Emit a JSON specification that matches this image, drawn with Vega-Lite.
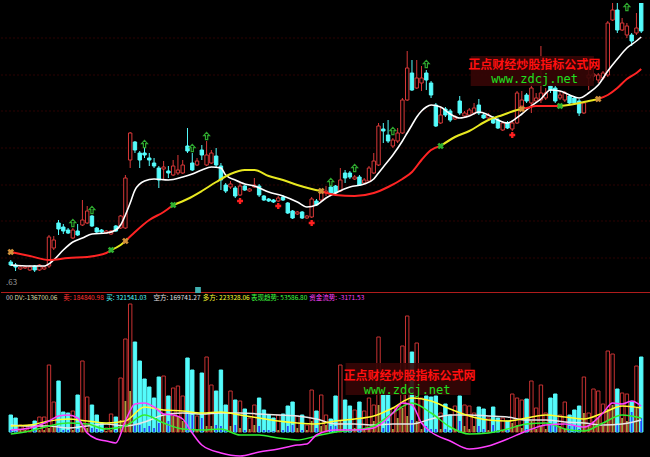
{
"$schema": "https://vega.github.io/schema/vega-lite/v6.json",
"background": "#000000",
"padding": 0,
"spacing": 15,
"bounds": "flush",
"config": {"view": {"stroke": null}, "text": {"font": "Noto Sans CJK SC"}},
"datasets": {
"k": [
{"i":0,"o":4.1,"c":3.8,"h":4.3,"l":3.7,"v":17000,"d":2000},
{"i":1,"o":3.8,"c":3.6,"h":4.0,"l":3.2,"v":14000,"d":1000},
{"i":2,"o":3.4,"c":3.6,"h":3.7,"l":3.3,"v":7000,"d":2000},
{"i":3,"o":3.5,"c":3.6,"h":3.7,"l":3.4,"v":6000,"d":2000},
{"i":4,"o":3.3,"c":3.6,"h":3.8,"l":3.2,"v":7000,"d":1000},
{"i":5,"o":3.7,"c":3.3,"h":3.8,"l":3.1,"v":11000,"d":2000},
{"i":6,"o":3.3,"c":3.8,"h":3.9,"l":3.2,"v":15000,"d":2000},
{"i":7,"o":3.4,"c":3.6,"h":3.7,"l":3.3,"v":15000,"d":2000},
{"i":8,"o":3.7,"c":6.6,"h":6.8,"l":3.5,"v":67000,"d":4000},
{"i":9,"o":5.5,"c":6.3,"h":6.7,"l":5.3,"v":30000,"d":6000},
{"i":10,"o":8.0,"c":7.4,"h":8.3,"l":6.8,"v":51000,"d":6000},
{"i":11,"o":7.6,"c":7.2,"h":7.9,"l":6.9,"v":20000,"d":2000},
{"i":12,"o":7.3,"c":7.0,"h":7.5,"l":6.9,"v":19000,"d":2000},
{"i":13,"o":6.5,"c":7.3,"h":7.5,"l":6.4,"v":21000,"d":2000},
{"i":14,"o":7.2,"c":6.8,"h":7.9,"l":6.7,"v":37000,"d":3000},
{"i":15,"o":7.8,"c":8.3,"h":10.3,"l":7.7,"v":71000,"d":7000},
{"i":16,"o":8.0,"c":9.2,"h":9.7,"l":7.9,"v":35000,"d":4000},
{"i":17,"o":8.7,"c":7.7,"h":8.8,"l":7.6,"v":27000,"d":4000},
{"i":18,"o":7.5,"c":7.1,"h":7.6,"l":7.0,"v":17000,"d":3000},
{"i":19,"o":7.3,"c":7.1,"h":7.4,"l":7.0,"v":9000,"d":1000},
{"i":20,"o":7.0,"c":7.2,"h":7.3,"l":6.9,"v":4000,"d":1000},
{"i":21,"o":6.9,"c":7.2,"h":7.3,"l":6.8,"v":18000,"d":2000},
{"i":22,"o":7.7,"c":7.2,"h":7.8,"l":7.1,"v":15000,"d":2000},
{"i":23,"o":7.5,"c":8.7,"h":8.8,"l":7.4,"v":54000,"d":12000},
{"i":24,"o":7.5,"c":12.5,"h":12.8,"l":7.4,"v":93000,"d":31000},
{"i":25,"o":14.3,"c":17.0,"h":17.1,"l":13.5,"v":128000,"d":41000},
{"i":26,"o":16.1,"c":15.3,"h":16.2,"l":15.0,"v":90000,"d":7000},
{"i":27,"o":15.0,"c":14.3,"h":15.2,"l":13.5,"v":71000,"d":7000},
{"i":28,"o":15.0,"c":14.8,"h":15.5,"l":14.5,"v":53000,"d":4000},
{"i":29,"o":14.5,"c":14.3,"h":15.0,"l":13.7,"v":45000,"d":6000},
{"i":30,"o":14.0,"c":13.7,"h":14.5,"l":13.5,"v":34000,"d":4000},
{"i":31,"o":13.5,"c":12.3,"h":13.7,"l":11.5,"v":55000,"d":9000},
{"i":32,"o":13.4,"c":13.6,"h":14.2,"l":12.3,"v":56000,"d":17000},
{"i":33,"o":13.2,"c":13.0,"h":13.7,"l":12.5,"v":36000,"d":11000},
{"i":34,"o":12.8,"c":13.7,"h":14.3,"l":12.7,"v":44000,"d":16000},
{"i":35,"o":13.0,"c":13.3,"h":14.8,"l":12.8,"v":46000,"d":16000},
{"i":36,"o":13.0,"c":13.8,"h":14.3,"l":12.9,"v":36000,"d":11000},
{"i":37,"o":15.7,"c":15.2,"h":17.5,"l":15.0,"v":74000,"d":19000},
{"i":38,"o":14.0,"c":13.3,"h":15.0,"l":13.2,"v":62000,"d":17000},
{"i":39,"o":13.8,"c":14.2,"h":14.5,"l":13.7,"v":16000,"d":2000},
{"i":40,"o":15.3,"c":14.8,"h":15.8,"l":14.3,"v":59000,"d":14000},
{"i":41,"o":13.8,"c":14.8,"h":16.2,"l":13.7,"v":75000,"d":6000},
{"i":42,"o":14.0,"c":15.0,"h":15.3,"l":13.9,"v":47000,"d":6000},
{"i":43,"o":14.7,"c":13.8,"h":15.5,"l":13.6,"v":41000,"d":7000},
{"i":44,"o":13.7,"c":12.3,"h":14.0,"l":11.3,"v":62000,"d":6000},
{"i":45,"o":11.8,"c":11.2,"h":12.0,"l":11.0,"v":27000,"d":2000},
{"i":46,"o":11.6,"c":11.9,"h":12.2,"l":11.4,"v":41000,"d":6000},
{"i":47,"o":11.5,"c":10.7,"h":11.7,"l":10.5,"v":32000,"d":7000},
{"i":48,"o":10.8,"c":11.7,"h":12.0,"l":10.7,"v":31000,"d":4000},
{"i":49,"o":11.7,"c":11.3,"h":11.8,"l":11.2,"v":23000,"d":2000},
{"i":50,"o":11.2,"c":11.4,"h":11.5,"l":11.1,"v":14000,"d":3000},
{"i":51,"o":11.6,"c":11.8,"h":12.5,"l":11.5,"v":27000,"d":7000},
{"i":52,"o":11.7,"c":10.8,"h":11.9,"l":10.6,"v":34000,"d":6000},
{"i":53,"o":10.7,"c":10.3,"h":10.8,"l":10.2,"v":22000,"d":2000},
{"i":54,"o":10.4,"c":10.2,"h":10.5,"l":10.1,"v":17000,"d":2000},
{"i":55,"o":10.3,"c":10.1,"h":10.4,"l":10.0,"v":14000,"d":1000},
{"i":56,"o":10.2,"c":10.5,"h":10.7,"l":10.1,"v":17000,"d":2000},
{"i":57,"o":10.6,"c":10.3,"h":10.8,"l":10.2,"v":18000,"d":2000},
{"i":58,"o":10.0,"c":9.0,"h":10.1,"l":8.9,"v":26000,"d":6000},
{"i":59,"o":9.2,"c":8.5,"h":9.3,"l":8.4,"v":30000,"d":7000},
{"i":60,"o":8.9,"c":9.1,"h":9.2,"l":8.8,"v":16000,"d":4000},
{"i":61,"o":9.1,"c":8.5,"h":9.2,"l":8.4,"v":17000,"d":2000},
{"i":62,"o":8.5,"c":8.7,"h":8.8,"l":8.4,"v":7000,"d":2000},
{"i":63,"o":8.6,"c":10.4,"h":10.6,"l":8.5,"v":42000,"d":11000},
{"i":64,"o":10.2,"c":9.8,"h":10.4,"l":9.7,"v":21000,"d":4000},
{"i":65,"o":10.3,"c":11.0,"h":11.2,"l":10.1,"v":37000,"d":6000},
{"i":66,"o":11.0,"c":11.2,"h":11.7,"l":10.7,"v":17000,"d":7000},
{"i":67,"o":11.6,"c":11.0,"h":11.7,"l":10.8,"v":13000,"d":6000},
{"i":68,"o":11.7,"c":11.0,"h":11.8,"l":10.9,"v":36000,"d":6000},
{"i":69,"o":11.2,"c":12.3,"h":13.5,"l":11.1,"v":67000,"d":11000},
{"i":70,"o":13.0,"c":12.5,"h":13.3,"l":12.0,"v":32000,"d":3000},
{"i":71,"o":13.0,"c":12.6,"h":13.2,"l":12.4,"v":26000,"d":3000},
{"i":72,"o":12.4,"c":12.6,"h":12.8,"l":12.3,"v":22000,"d":4000},
{"i":73,"o":12.6,"c":11.8,"h":12.8,"l":11.7,"v":30000,"d":3000},
{"i":74,"o":12.0,"c":12.3,"h":12.5,"l":11.9,"v":21000,"d":4000},
{"i":75,"o":12.2,"c":13.5,"h":13.7,"l":12.1,"v":34000,"d":5000},
{"i":76,"o":13.0,"c":14.2,"h":15.0,"l":12.9,"v":27000,"d":11000},
{"i":77,"o":13.8,"c":17.7,"h":18.0,"l":13.7,"v":95000,"d":27000},
{"i":78,"o":17.4,"c":17.2,"h":18.0,"l":16.0,"v":37000,"d":4000},
{"i":79,"o":16.8,"c":16.2,"h":18.3,"l":16.0,"v":37000,"d":11000},
{"i":80,"o":15.7,"c":16.3,"h":16.5,"l":15.5,"v":24000,"d":3000},
{"i":81,"o":16.2,"c":17.0,"h":17.5,"l":16.0,"v":26000,"d":14000},
{"i":82,"o":17.0,"c":20.3,"h":20.5,"l":16.9,"v":86000,"d":24000},
{"i":83,"o":20.3,"c":23.5,"h":25.2,"l":20.2,"v":116000,"d":16000},
{"i":84,"o":23.0,"c":21.3,"h":24.3,"l":21.2,"v":80000,"d":12000},
{"i":85,"o":21.5,"c":22.5,"h":24.3,"l":21.4,"v":89000,"d":11000},
{"i":86,"o":22.0,"c":22.5,"h":23.7,"l":21.2,"v":34000,"d":3000},
{"i":87,"o":23.0,"c":22.3,"h":23.3,"l":21.3,"v":36000,"d":6000},
{"i":88,"o":22.0,"c":20.8,"h":22.2,"l":20.5,"v":35000,"d":3000},
{"i":89,"o":19.8,"c":17.7,"h":20.0,"l":17.6,"v":36000,"d":3000},
{"i":90,"o":18.0,"c":18.8,"h":19.5,"l":17.9,"v":19000,"d":3000},
{"i":91,"o":19.4,"c":18.8,"h":19.6,"l":18.6,"v":28000,"d":3000},
{"i":92,"o":19.2,"c":18.3,"h":19.4,"l":18.1,"v":17000,"d":2000},
{"i":93,"o":18.4,"c":18.6,"h":18.8,"l":18.3,"v":26000,"d":3000},
{"i":94,"o":20.2,"c":19.0,"h":20.7,"l":18.8,"v":36000,"d":11000},
{"i":95,"o":18.7,"c":19.0,"h":19.2,"l":18.6,"v":27000,"d":6000},
{"i":96,"o":18.8,"c":19.3,"h":19.5,"l":18.7,"v":26000,"d":3000},
{"i":97,"o":19.0,"c":19.5,"h":20.0,"l":18.8,"v":19000,"d":6000},
{"i":98,"o":19.8,"c":19.0,"h":20.4,"l":18.8,"v":25000,"d":6000},
{"i":99,"o":18.8,"c":18.5,"h":19.0,"l":18.4,"v":23000,"d":3000},
{"i":100,"o":18.5,"c":18.8,"h":19.0,"l":18.4,"v":14000,"d":2000},
{"i":101,"o":18.5,"c":18.0,"h":18.7,"l":17.9,"v":25000,"d":7000},
{"i":102,"o":18.3,"c":17.5,"h":18.5,"l":17.4,"v":14000,"d":2000},
{"i":103,"o":17.3,"c":18.0,"h":18.2,"l":17.2,"v":14000,"d":2000},
{"i":104,"o":18.0,"c":17.5,"h":18.2,"l":17.4,"v":11000,"d":2000},
{"i":105,"o":17.4,"c":18.0,"h":18.2,"l":17.2,"v":38000,"d":9000},
{"i":106,"o":18.0,"c":21.0,"h":21.2,"l":17.9,"v":34000,"d":7000},
{"i":107,"o":19.7,"c":20.3,"h":21.2,"l":19.6,"v":32000,"d":4000},
{"i":108,"o":20.8,"c":20.2,"h":21.0,"l":20.0,"v":33000,"d":3000},
{"i":109,"o":20.0,"c":21.5,"h":22.0,"l":19.0,"v":51000,"d":11000},
{"i":110,"o":20.2,"c":20.5,"h":21.0,"l":20.0,"v":24000,"d":3000},
{"i":111,"o":20.3,"c":21.0,"h":25.7,"l":20.0,"v":47000,"d":6000},
{"i":112,"o":20.5,"c":21.0,"h":21.5,"l":20.3,"v":19000,"d":3000},
{"i":113,"o":21.7,"c":21.3,"h":21.8,"l":21.0,"v":34000,"d":7000},
{"i":114,"o":21.5,"c":20.2,"h":21.7,"l":20.0,"v":38000,"d":6000},
{"i":115,"o":20.5,"c":20.8,"h":21.2,"l":20.3,"v":17000,"d":6000},
{"i":116,"o":20.3,"c":21.0,"h":21.2,"l":20.1,"v":30000,"d":3000},
{"i":117,"o":20.7,"c":20.0,"h":20.9,"l":19.8,"v":17000,"d":6000},
{"i":118,"o":20.5,"c":20.0,"h":20.7,"l":19.8,"v":22000,"d":6000},
{"i":119,"o":20.2,"c":19.0,"h":20.4,"l":18.7,"v":26000,"d":3000},
{"i":120,"o":19.0,"c":20.0,"h":20.2,"l":18.9,"v":55000,"d":19000},
{"i":121,"o":22.5,"c":22.8,"h":24.0,"l":21.3,"v":19000,"d":6000},
{"i":122,"o":22.7,"c":22.9,"h":23.5,"l":22.2,"v":43000,"d":11000},
{"i":123,"o":22.3,"c":22.8,"h":23.0,"l":22.0,"v":41000,"d":14000},
{"i":124,"o":22.5,"c":23.0,"h":23.2,"l":22.3,"v":28000,"d":6000},
{"i":125,"o":22.8,"c":28.0,"h":28.2,"l":22.6,"v":81000,"d":23000},
{"i":126,"o":28.3,"c":29.3,"h":30.0,"l":28.2,"v":78000,"d":27000},
{"i":127,"o":29.3,"c":27.3,"h":30.0,"l":27.0,"v":43000,"d":7000},
{"i":128,"o":27.3,"c":28.0,"h":28.5,"l":27.2,"v":39000,"d":14000},
{"i":129,"o":26.8,"c":27.7,"h":28.0,"l":26.5,"v":38000,"d":11000},
{"i":130,"o":26.8,"c":26.2,"h":27.0,"l":25.7,"v":30000,"d":20000},
{"i":131,"o":27.0,"c":27.5,"h":29.0,"l":26.8,"v":66000,"d":24000},
{"i":132,"o":30.0,"c":27.2,"h":30.0,"l":27.0,"v":75000,"d":14000}
],
"ma": [
{"i":0,"p":3.8},{"i":4,"p":3.7},{"i":7,"p":3.7},{"i":9,"p":4.3},{"i":11,"p":5.3},{"i":13,"p":6.1},{"i":15,"p":6.5},{"i":17,"p":6.9},{"i":20,"p":7.0},{"i":22,"p":7.3},{"i":23,"p":7.8},{"i":24,"p":8.8},{"i":25,"p":10.0},{"i":26,"p":11.3},{"i":28,"p":12.2},{"i":30,"p":12.4},{"i":33,"p":12.3},{"i":36,"p":12.6},{"i":38,"p":12.9},{"i":40,"p":13.3},{"i":42,"p":13.6},{"i":44,"p":13.5},{"i":45,"p":12.8},{"i":47,"p":12.3},{"i":49,"p":11.9},{"i":51,"p":11.7},{"i":54,"p":11.1},{"i":57,"p":10.7},{"i":60,"p":10.1},{"i":62,"p":9.6},{"i":64,"p":9.8},{"i":66,"p":10.5},{"i":68,"p":11.0},{"i":71,"p":11.6},{"i":74,"p":11.9},{"i":76,"p":12.4},{"i":77,"p":13.0},{"i":78,"p":13.6},{"i":80,"p":14.8},{"i":82,"p":16.2},{"i":83,"p":17.0},{"i":84,"p":17.8},{"i":85,"p":18.6},{"i":86,"p":19.2},{"i":87,"p":19.6},{"i":88,"p":19.8},{"i":90,"p":19.6},{"i":92,"p":18.9},{"i":94,"p":18.5},{"i":96,"p":18.7},{"i":98,"p":19.1},{"i":100,"p":18.8},{"i":102,"p":18.3},{"i":104,"p":18.0},{"i":105,"p":18.2},{"i":107,"p":18.9},{"i":109,"p":19.7},{"i":111,"p":20.4},{"i":113,"p":21.3},{"i":115,"p":21.2},{"i":117,"p":20.8},{"i":119,"p":20.5},{"i":121,"p":21.0},{"i":123,"p":21.8},{"i":125,"p":23.2},{"i":127,"p":24.4},{"i":129,"p":25.5},{"i":131,"p":26.2},{"i":132,"p":26.6}
],
"ma2": [
{"i":0,"p":5.1,"seg":"s1","st":"r"},{"i":4,"p":4.7,"seg":"s1","st":"r"},{"i":8,"p":4.3,"seg":"s1","st":"r"},{"i":12,"p":4.5,"seg":"s1","st":"r"},{"i":16,"p":4.6,"seg":"s1","st":"r"},{"i":20,"p":5.0,"seg":"s1","st":"r"},{"i":21,"p":5.3,"seg":"s1","st":"r"},
{"i":21,"p":5.3,"seg":"s2","st":"y"},{"i":23,"p":5.8,"seg":"s2","st":"y"},{"i":24,"p":6.2,"seg":"s2","st":"y"},
{"i":24,"p":6.2,"seg":"s3","st":"r"},{"i":26,"p":7.1,"seg":"s3","st":"r"},{"i":29,"p":8.3,"seg":"s3","st":"r"},{"i":32,"p":9.1,"seg":"s3","st":"r"},{"i":34,"p":9.8,"seg":"s3","st":"r"},
{"i":34,"p":9.8,"seg":"s4","st":"y"},{"i":37,"p":10.4,"seg":"s4","st":"y"},{"i":40,"p":11.2,"seg":"s4","st":"y"},{"i":43,"p":12.1,"seg":"s4","st":"y"},{"i":46,"p":12.9,"seg":"s4","st":"y"},{"i":49,"p":13.3,"seg":"s4","st":"y"},{"i":51,"p":13.3,"seg":"s4","st":"y"},{"i":54,"p":12.7,"seg":"s4","st":"y"},{"i":57,"p":12.3,"seg":"s4","st":"y"},{"i":60,"p":11.8,"seg":"s4","st":"y"},{"i":63,"p":11.4,"seg":"s4","st":"y"},{"i":65,"p":11.2,"seg":"s4","st":"y"},
{"i":65,"p":11.2,"seg":"s5","st":"r"},{"i":68,"p":10.8,"seg":"s5","st":"r"},{"i":72,"p":10.7,"seg":"s5","st":"r"},{"i":76,"p":11.0,"seg":"s5","st":"r"},{"i":79,"p":11.6,"seg":"s5","st":"r"},{"i":82,"p":12.4,"seg":"s5","st":"r"},{"i":84,"p":13.1,"seg":"s5","st":"r"},{"i":86,"p":14.3,"seg":"s5","st":"r"},{"i":88,"p":15.3,"seg":"s5","st":"r"},{"i":90,"p":15.7,"seg":"s5","st":"r"},
{"i":90,"p":15.7,"seg":"s6","st":"y"},{"i":93,"p":16.6,"seg":"s6","st":"y"},{"i":96,"p":17.2,"seg":"s6","st":"y"},{"i":100,"p":18.3,"seg":"s6","st":"y"},{"i":103,"p":18.8,"seg":"s6","st":"y"},{"i":106,"p":19.3,"seg":"s6","st":"y"},{"i":107,"p":19.4,"seg":"s6","st":"y"},
{"i":107,"p":19.4,"seg":"s7","st":"r"},{"i":108,"p":19.5,"seg":"s7","st":"r"},{"i":110,"p":19.7,"seg":"s7","st":"r"},{"i":113,"p":19.7,"seg":"s7","st":"r"},{"i":115,"p":19.7,"seg":"s7","st":"r"},
{"i":115,"p":19.7,"seg":"s8","st":"y"},{"i":118,"p":19.9,"seg":"s8","st":"y"},{"i":121,"p":20.2,"seg":"s8","st":"y"},{"i":123,"p":20.4,"seg":"s8","st":"y"},
{"i":123,"p":20.4,"seg":"s9","st":"r"},{"i":125,"p":20.8,"seg":"s9","st":"r"},{"i":127,"p":21.5,"seg":"s9","st":"r"},{"i":129,"p":22.4,"seg":"s9","st":"r"},{"i":131,"p":23.0,"seg":"s9","st":"r"},{"i":132,"p":23.4,"seg":"s9","st":"r"}
],
"xm": [
{"i":0,"p":5.1,"k":"o"},{"i":21,"p":5.3,"k":"g"},{"i":24,"p":6.2,"k":"o"},{"i":34,"p":9.8,"k":"g"},{"i":65,"p":11.2,"k":"o"},{"i":90,"p":15.7,"k":"g"},{"i":107,"p":19.4,"k":"o"},{"i":115,"p":19.7,"k":"g"},{"i":123,"p":20.4,"k":"o"}
],
"up": [
{"i":13,"p":8.0},{"i":17,"p":9.3},{"i":28,"p":15.9},{"i":38,"p":15.5},{"i":41,"p":16.7},{"i":67,"p":12.1},{"i":72,"p":13.5},{"i":80,"p":17.2},{"i":87,"p":23.9},{"i":129,"p":29.6}
],
"dn": [
{"i":48,"p":10.2},{"i":56,"p":9.7},{"i":63,"p":8.0},{"i":105,"p":16.8}
],
"gp": [{"p":26.5},{"p":22.8},{"p":19.2},{"p":15.5},{"p":11.8},{"p":8.2},{"p":4.5}],
"ind": [
{"i":0,"w":7000,"yl":6000,"g":-2000},{"i":4,"w":6000,"yl":7000,"g":1000},{"i":8,"w":6000,"yl":11000,"g":6000},{"i":12,"w":4000,"yl":13000,"g":9000},{"i":16,"w":6000,"yl":11000,"g":8000},{"i":20,"w":8000,"yl":9000,"g":3000},{"i":24,"w":6000,"yl":11000,"g":6000},{"i":28,"w":10000,"yl":25000,"g":17000},{"i":32,"w":17000,"yl":22000,"g":9000},{"i":36,"w":19000,"yl":21000,"g":3000},{"i":40,"w":18000,"yl":19000,"g":2000},{"i":44,"w":19000,"yl":20000,"g":3000},{"i":48,"w":19000,"yl":17000,"g":-3000},{"i":52,"w":18000,"yl":14000,"g":-3000},{"i":56,"w":17000,"yl":11000,"g":-6000},{"i":60,"w":16000,"yl":9000,"g":-8000},{"i":64,"w":13000,"yl":8000,"g":-4000},{"i":68,"w":8000,"yl":11000,"g":0},{"i":72,"w":8000,"yl":13000,"g":2000},{"i":76,"w":7000,"yl":16000,"g":6000},{"i":80,"w":8000,"yl":24000,"g":19000},{"i":84,"w":8000,"yl":34000,"g":29000},{"i":88,"w":13000,"yl":31000,"g":19000},{"i":92,"w":17000,"yl":23000,"g":5000},{"i":96,"w":17000,"yl":16000,"g":-2000},{"i":100,"w":16000,"yl":12000,"g":-1000},{"i":104,"w":15000,"yl":11000,"g":3000},{"i":108,"w":12000,"yl":14000,"g":8000},{"i":112,"w":12000,"yl":17000,"g":9000},{"i":116,"w":10000,"yl":15000,"g":3000},{"i":120,"w":9000,"yl":13000,"g":1000},{"i":124,"w":7000,"yl":19000,"g":9000},{"i":128,"w":8000,"yl":26000,"g":17000},{"i":132,"w":12000,"yl":24000,"g":14000}
],
"flow": [
{"i":0,"m":2000},{"i":4,"m":4000},{"i":8,"m":11000},{"i":10,"m":16000},{"i":12,"m":17000},{"i":14,"m":14000},{"i":16,"m":-1000},{"i":18,"m":-7000},{"i":20,"m":-9000},{"i":22,"m":-11000},{"i":24,"m":11000},{"i":26,"m":28000},{"i":28,"m":29000},{"i":30,"m":25000},{"i":32,"m":18000},{"i":34,"m":17000},{"i":36,"m":13000},{"i":38,"m":-1000},{"i":40,"m":-13000},{"i":44,"m":-21000},{"i":48,"m":-24000},{"i":52,"m":-20000},{"i":56,"m":-17000},{"i":60,"m":-13000},{"i":62,"m":-12000},{"i":64,"m":-3000},{"i":68,"m":2000},{"i":72,"m":2000},{"i":76,"m":4000},{"i":80,"m":19000},{"i":82,"m":29000},{"i":84,"m":27000},{"i":86,"m":9000},{"i":88,"m":0},{"i":92,"m":-9000},{"i":96,"m":-17000},{"i":100,"m":-14000},{"i":104,"m":-7000},{"i":108,"m":1000},{"i":112,"m":7000},{"i":116,"m":8000},{"i":120,"m":5000},{"i":124,"m":19000},{"i":126,"m":29000},{"i":128,"m":28000},{"i":130,"m":31000},{"i":132,"m":26000}
]
},
"vconcat": [
{
"width": 650, "height": 283,
"layer": [
{"data": {"name": "gp"}, "mark": {"type": "rule", "color": "#2c0303", "strokeDash": [2, 2], "strokeWidth": 1},
 "encoding": {"y": {"field": "p", "type": "quantitative", "scale": {"domain": [1.7, 30], "nice": false, "zero": false}, "axis": null}}},
{"data": {"name": "k"}, "mark": {"type": "rule", "strokeWidth": 1, "clip": true},
 "encoding": {
  "x": {"field": "i", "type": "quantitative", "scale": {"domain": [-1, 133], "nice": false, "zero": false}, "axis": null},
  "y": {"field": "h", "type": "quantitative"},
  "y2": {"field": "l"},
  "color": {"condition": {"test": "datum.c >= datum.o", "value": "#d83838"}, "value": "#54fcfc"}}},
{"data": {"name": "k"}, "mark": {"type": "bar", "width": 3.4, "strokeWidth": 1, "clip": true},
 "encoding": {
  "x": {"field": "i", "type": "quantitative"},
  "y": {"field": "o", "type": "quantitative"},
  "y2": {"field": "c"},
  "fill": {"condition": {"test": "datum.c >= datum.o", "value": "#000000"}, "value": "#54fcfc"},
  "stroke": {"condition": {"test": "datum.c >= datum.o", "value": "#d83838"}, "value": "#54fcfc"}}},
{"data": {"name": "ma"}, "mark": {"type": "line", "color": "#ffffff", "strokeWidth": 1.6, "interpolate": "monotone", "clip": true},
 "encoding": {"x": {"field": "i", "type": "quantitative"}, "y": {"field": "p", "type": "quantitative"}}},
{"data": {"name": "ma2"}, "mark": {"type": "line", "strokeWidth": 2, "interpolate": "monotone", "clip": true},
 "encoding": {"x": {"field": "i", "type": "quantitative"}, "y": {"field": "p", "type": "quantitative"}, "detail": {"field": "seg"},
  "color": {"condition": {"test": "datum.st == 'y'", "value": "#e8e820"}, "value": "#ff2424"}}},
{"data": {"name": "xm"}, "mark": {"type": "point", "shape": "cross", "angle": 45, "filled": true, "size": 45, "opacity": 1},
 "encoding": {"x": {"field": "i", "type": "quantitative"}, "y": {"field": "p", "type": "quantitative"},
  "color": {"condition": {"test": "datum.k == 'g'", "value": "#30b030"}, "value": "#d0903a"}}},
{"data": {"name": "up"}, "mark": {"type": "point", "shape": "M0,-1L0.8,-0.1L0.3,-0.1L0.3,1L-0.3,1L-0.3,-0.1L-0.8,-0.1Z", "filled": false, "size": 55, "strokeWidth": 1.2, "color": "#2fa82f", "opacity": 1},
 "encoding": {"x": {"field": "i", "type": "quantitative"}, "y": {"field": "p", "type": "quantitative"}}},
{"data": {"name": "dn"}, "mark": {"type": "point", "shape": "cross", "filled": true, "size": 35, "color": "#ff2020", "opacity": 1},
 "encoding": {"x": {"field": "i", "type": "quantitative"}, "y": {"field": "p", "type": "quantitative"}}},
{"data": {"values": [{}]}, "mark": {"type": "rect", "color": "#360606", "opacity": 0.9},
 "encoding": {"x": {"datum": 96.3}, "x2": {"datum": 122.1}, "y": {"datum": 24.7}, "y2": {"datum": 21.7}}},
{"data": {"values": [{}]}, "mark": {"type": "text", "text": "正点财经炒股指标公式网", "color": "#ff1010", "fontSize": 12, "fontWeight": "bold", "align": "center", "baseline": "middle"},
 "encoding": {"x": {"datum": 109.6}, "y": {"datum": 23.8}}},
{"data": {"values": [{}]}, "mark": {"type": "text", "text": "www.zdcj.net", "color": "#20e020", "font": "DejaVu Sans Mono", "fontSize": 12, "align": "center", "baseline": "middle"},
 "encoding": {"x": {"datum": 109.7}, "y": {"datum": 22.4}}},
{"data": {"values": [{}]}, "mark": {"type": "text", "text": ".63", "color": "#9a9a9a", "fontSize": 8, "align": "left", "baseline": "middle"},
 "encoding": {"x": {"datum": -1}, "y": {"datum": 2.0}}}
]
},
{
"width": 650, "height": 159,
"layer": [
{"data": {"name": "k"}, "mark": {"type": "bar", "width": 3.4, "strokeWidth": 1},
 "encoding": {
  "x": {"field": "i", "type": "quantitative", "scale": {"domain": [-1, 133], "nice": false, "zero": false}, "axis": null},
  "y": {"field": "v", "type": "quantitative", "scale": {"domain": [-28000, 131000], "nice": false, "zero": false}, "axis": null},
  "y2": {"datum": 0},
  "fill": {"condition": {"test": "datum.c >= datum.o", "value": "#000000"}, "value": "#54fcfc"},
  "stroke": {"condition": {"test": "datum.c >= datum.o", "value": "#c83232"}, "value": "#54fcfc"}}},
{"data": {"name": "k"}, "mark": {"type": "bar", "width": 1.8},
 "encoding": {
  "x": {"field": "i", "type": "quantitative"},
  "y": {"field": "d", "type": "quantitative"},
  "y2": {"datum": 0},
  "color": {"condition": {"test": "datum.c >= datum.o", "value": "#a8a040"}, "value": "#2848ff"}}},
{"data": {"name": "ind"}, "mark": {"type": "line", "color": "#e8e8e8", "strokeWidth": 1.5, "interpolate": "monotone"},
 "encoding": {"x": {"field": "i", "type": "quantitative"}, "y": {"field": "w", "type": "quantitative"}}},
{"data": {"name": "ind"}, "mark": {"type": "line", "color": "#30f030", "strokeWidth": 1.5, "interpolate": "monotone"},
 "encoding": {"x": {"field": "i", "type": "quantitative"}, "y": {"field": "g", "type": "quantitative"}}},
{"data": {"name": "ind"}, "mark": {"type": "line", "color": "#ffff30", "strokeWidth": 1.5, "interpolate": "monotone"},
 "encoding": {"x": {"field": "i", "type": "quantitative"}, "y": {"field": "yl", "type": "quantitative"}}},
{"data": {"name": "flow"}, "mark": {"type": "line", "color": "#ff40ff", "strokeWidth": 1.5, "interpolate": "monotone"},
 "encoding": {"x": {"field": "i", "type": "quantitative"}, "y": {"field": "m", "type": "quantitative"}}},
{"data": {"values": [{}]}, "mark": {"type": "rect", "color": "#360606", "opacity": 0.9},
 "encoding": {"x": {"datum": 70.1}, "x2": {"datum": 96.3}, "y": {"datum": 69000}, "y2": {"datum": 37000}}},
{"data": {"values": [{}]}, "mark": {"type": "text", "text": "正点财经炒股指标公式网", "color": "#ff1010", "fontSize": 12, "fontWeight": "bold", "align": "center", "baseline": "middle"},
 "encoding": {"x": {"datum": 83.5}, "y": {"datum": 56000}}},
{"data": {"values": [{}]}, "mark": {"type": "text", "text": "www.zdcj.net", "color": "#20e020", "font": "DejaVu Sans Mono", "fontSize": 12, "align": "center", "baseline": "middle"},
 "encoding": {"x": {"datum": 83.0}, "y": {"datum": 42000}}},
{"data": {"values": [{}]}, "mark": {"type": "rule", "color": "#b01c1c", "strokeWidth": 1},
 "encoding": {"y": {"datum": 139500}}},
{"data": {"values": [{}]}, "mark": {"type": "rect", "color": "#40b0b0"},
 "encoding": {"x": {"datum": 38.6}, "x2": {"datum": 39.8}, "y": {"datum": 145000}, "y2": {"datum": 139000}}},
{"data": {"values": [{}]}, "mark": {"type": "text", "text": "00", "color": "#c8c8c8", "fontSize": 6.5, "align": "left", "baseline": "middle"},
 "encoding": {"x": {"datum": -1}, "y": {"datum": 134000}}},
{"data": {"values": [{}]}, "mark": {"type": "text", "text": "DV:-136700.06", "color": "#d8d8a8", "fontSize": 6.5, "align": "left", "baseline": "middle"},
 "encoding": {"x": {"datum": 0.8}, "y": {"datum": 134000}}},
{"data": {"values": [{}]}, "mark": {"type": "text", "text": "卖: 184840.98", "color": "#ff3232", "fontSize": 6.5, "align": "left", "baseline": "middle"},
 "encoding": {"x": {"datum": 11.0}, "y": {"datum": 134000}}},
{"data": {"values": [{}]}, "mark": {"type": "text", "text": "买: 321541.03", "color": "#54fcfc", "fontSize": 6.5, "align": "left", "baseline": "middle"},
 "encoding": {"x": {"datum": 20.0}, "y": {"datum": 134000}}},
{"data": {"values": [{}]}, "mark": {"type": "text", "text": "空方: 169741.27", "color": "#e0e0e0", "fontSize": 6.5, "align": "left", "baseline": "middle"},
 "encoding": {"x": {"datum": 29.9}, "y": {"datum": 134000}}},
{"data": {"values": [{}]}, "mark": {"type": "text", "text": "多方: 223328.06", "color": "#ffff30", "fontSize": 6.5, "align": "left", "baseline": "middle"},
 "encoding": {"x": {"datum": 40.2}, "y": {"datum": 134000}}},
{"data": {"values": [{}]}, "mark": {"type": "text", "text": "表现趋势: 53586.80", "color": "#40ff40", "fontSize": 6.5, "align": "left", "baseline": "middle"},
 "encoding": {"x": {"datum": 50.3}, "y": {"datum": 134000}}},
{"data": {"values": [{}]}, "mark": {"type": "text", "text": "资金流势: -3171.53", "color": "#ff40ff", "fontSize": 6.5, "align": "left", "baseline": "middle"},
 "encoding": {"x": {"datum": 62.5}, "y": {"datum": 134000}}}
]
}
]
}
